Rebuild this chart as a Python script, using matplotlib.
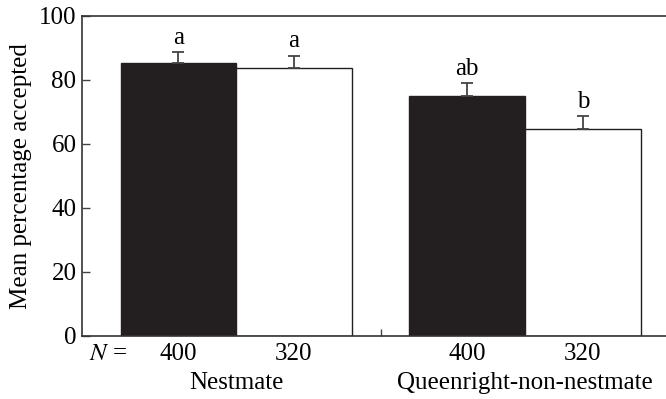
import matplotlib
matplotlib.use("Agg")
import matplotlib.pyplot as plt
import numpy as np

# data
groups = ["Nestmate", "Queenright-non-nestmate"]
n_labels = ["400", "320", "400", "320"]
means = [85.4, 83.7, 75.0, 64.8]
errors = [3.4, 3.9, 4.0, 3.8]
letters = ["a", "a", "ab", "b"]
fills = ["#231f20", "white", "#231f20", "white"]

plt.rcParams['font.family'] = ['Liberation Serif', 'DejaVu Serif']
fs = 18

fig = plt.figure(figsize=(6.66, 3.99), dpi=100)
ax = fig.add_axes([0.1231, 0.1579, 0.8769, 0.802])

x = np.array([0, 1, 2.5, 3.5])
ax.bar(x, means, width=1.0, color=fills, edgecolor="#231f20", linewidth=1.0)
ax.errorbar(x, means, yerr=[np.zeros(len(errors)), errors], fmt="none",
            ecolor="#444444", elinewidth=1.3, capsize=4.5, capthick=1.3)

# significance letters
for xi, m, e, lab in zip(x, means, errors, letters):
    ax.text(xi, m + e + 1.0, lab, ha="center", va="bottom", fontsize=fs)

ax.set_xlim(-0.834, 4.22)
ax.set_ylim(0, 100)
ax.set_yticks([0, 20, 40, 60, 80, 100])
ax.tick_params(axis="y", direction="in", length=6, width=1.0, labelsize=fs,
               pad=4, color="#444444")
ax.set_ylabel("Mean percentage accepted", fontsize=fs, labelpad=5)

# x axis: only the small separator tick between groups
ax.set_xticks([1.75])
ax.set_xticklabels([""])
ax.tick_params(axis="x", direction="in", length=5, width=1.0, color="#444444")

for side in ["left", "top", "bottom"]:
    ax.spines[side].set_color("#333333")
    ax.spines[side].set_linewidth(1.2)
ax.spines["right"].set_visible(False)

# N labels and group names below the axis
trans = ax.get_xaxis_transform()
ax.text(-0.61, -0.022, "$N$ =", transform=trans, ha="center", va="top",
        fontsize=fs, math_fontfamily="stix")
for xi, lab in zip(x, n_labels):
    ax.text(xi, -0.022, lab, transform=trans, ha="center", va="top", fontsize=fs)
ax.text(0.5, -0.112, groups[0], transform=trans, ha="center", va="top", fontsize=fs)
ax.text(3.0, -0.112, groups[1], transform=trans, ha="center", va="top", fontsize=fs)

fig.savefig("out.png", dpi=100)
